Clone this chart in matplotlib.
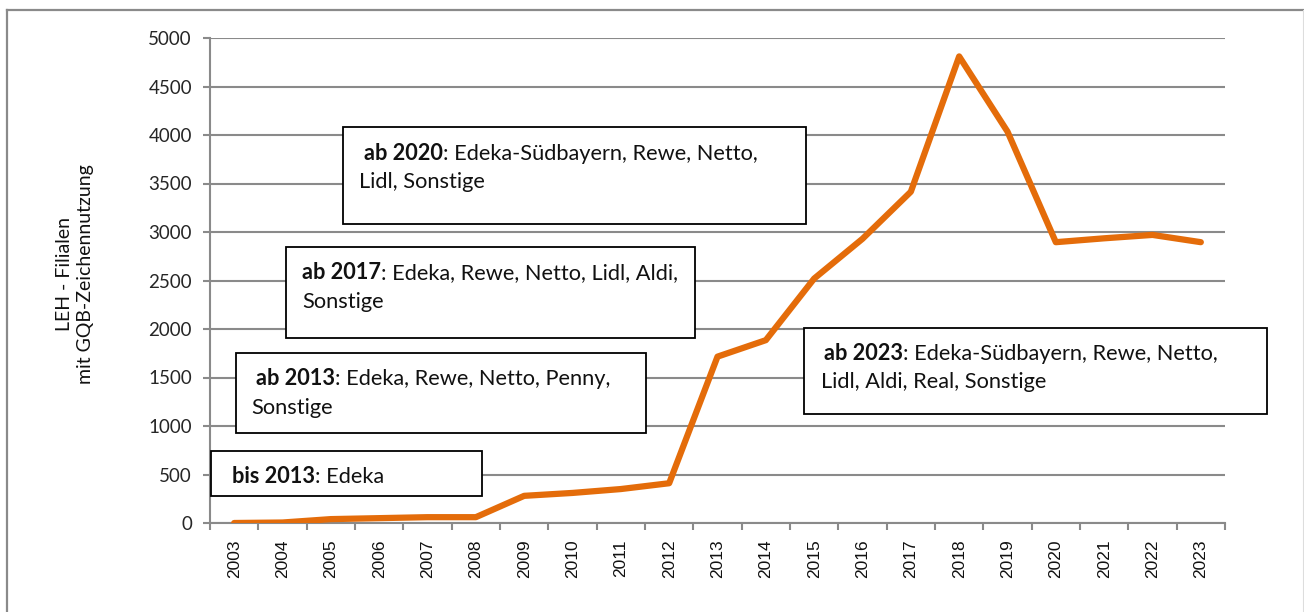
import numpy as np
import matplotlib
matplotlib.use("Agg")
import matplotlib.pyplot as plt
from matplotlib.patches import Rectangle
from matplotlib.lines import Line2D

# data
years = [str(y) for y in range(2003, 2024)]
filialen = [0, 5, 40, 50, 60, 60, 280, 310, 350, 410, 1715,
            1885, 2520, 2930, 3415, 4810, 4035, 2895, 2935, 2970, 2895]
y_ticks = [0, 500, 1000, 1500, 2000, 2500, 3000, 3500, 4000, 4500, 5000]

box_bold = ["ab 2020", "ab 2017", "ab 2013", "bis 2013", "ab 2023"]
box_rest = [": Edeka-Südbayern, Rewe, Netto,",
            ": Edeka, Rewe, Netto, Lidl, Aldi,",
            ": Edeka, Rewe, Netto, Penny,",
            ": Edeka",
            ": Edeka-Südbayern, Rewe, Netto,"]
box_line2 = ["Lidl, Sonstige", "Sonstige", "Sonstige", "", "Lidl, Aldi, Real, Sonstige"]

W, H = 1304, 612
# box geometry in pixels: left, top, right, bottom, text x line1, text x line2, baseline1
box_geo = [(343, 127, 806, 224, 364, 359, 160),
           (286, 247, 695, 338, 302, 302, 279),
           (236, 353, 646, 433, 256, 251, 385),
           (211, 451, 482, 496, 232, 232, 483),
           (804, 328, 1267, 414, 824, 821, 360)]
fs_box = 15.7

fig = plt.figure(figsize=(W / 100, H / 100), dpi=100)
ax = fig.add_axes([210 / W, 1 - 523 / H, (1225 - 210) / W, (523 - 38) / H])
tf = fig.transFigure

grid_c = "#8a8a8a"
x = np.arange(len(years))
ax.plot(x, filialen, color="#E46C0A", lw=4.5, solid_capstyle="round",
        solid_joinstyle="round", zorder=3)

ax.set_xlim(-0.5, len(years) - 0.5)
ax.set_ylim(0, 5000)
ax.set_yticks(y_ticks)
ax.set_yticklabels([str(v) for v in y_ticks], fontfamily="Lato", fontsize=13.5, color="#262626")
ax.yaxis.grid(True, color=grid_c, lw=1.5, zorder=0)
ax.set_axisbelow(True)

ax.set_xticks(x)
ax.set_xticklabels(years, rotation=90, fontfamily="Liberation Sans", fontsize=12.5, color="#111111")
ax.set_xticks(np.arange(len(years) + 1) - 0.5, minor=True)
ax.tick_params(axis="x", which="major", length=0, pad=12)
ax.tick_params(axis="x", which="minor", length=5, width=1.5, color=grid_c, direction="out")
ax.tick_params(axis="y", length=5, width=1.5, color=grid_c, pad=8)

for s in ["top", "right"]:
    ax.spines[s].set_visible(False)
for s in ["left", "bottom"]:
    ax.spines[s].set_color(grid_c)
    ax.spines[s].set_linewidth(1.5)

# y label
fig.text(75 / W, 1 - 274 / H, "LEH - Filialen\nmit GQB-Zeichennutzung", rotation=90,
         ha="center", va="center", fontfamily="Lato", fontsize=14, linespacing=1.3,
         color="#111111")

# annotation boxes
for i in range(len(box_bold)):
    l, t, r, b, tx1, tx2, by = box_geo[i]
    ax.add_patch(Rectangle((l / W, 1 - b / H), (r - l) / W, (b - t) / H,
                           transform=tf, facecolor="white", edgecolor="black",
                           lw=1.3, zorder=5, clip_on=False))
    tb = ax.text(tx1 / W, 1 - by / H, box_bold[i], transform=tf, fontfamily="Lato",
                 fontsize=fs_box, fontweight="bold", ha="left", va="baseline", zorder=6,
                 color="#111111")
    ax.annotate(box_rest[i], xy=(1, 0), xycoords=tb, ha="left", va="bottom",
                fontfamily="Lato", fontsize=fs_box, annotation_clip=False, zorder=6,
                color="#111111")
    if box_line2[i]:
        ax.text(tx2 / W, 1 - (by + 28.5) / H, box_line2[i], transform=tf, fontfamily="Lato",
                fontsize=fs_box, ha="left", va="baseline", zorder=6, color="#111111")

# outer frame
fig.add_artist(Line2D([7 / W, 7 / W], [0, 1 - 10 / H], transform=tf,
                      color="#8a8a8a", lw=1.6))
fig.add_artist(Line2D([7 / W, 1303 / W], [1 - 10 / H, 1 - 10 / H], transform=tf,
                      color="#8a8a8a", lw=1.6))
fig.add_artist(Line2D([1303 / W, 1303 / W], [0, 1 - 10 / H], transform=tf,
                      color="#dddddd", lw=0.8))

fig.savefig("out.png", dpi=100)
